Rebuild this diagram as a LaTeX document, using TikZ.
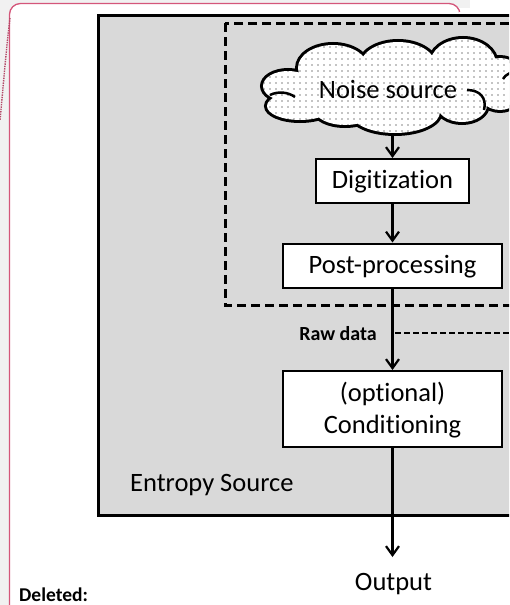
\documentclass[tikz,border=0pt]{standalone}
\usepackage{fontspec}
\setmainfont{Carlito}[Ligatures=NoCommon]
\usetikzlibrary{arrows.meta,patterns.meta}
\definecolor{boxgray}{HTML}{D9D9D9}
\definecolor{bggray}{HTML}{F1F1F1}
\definecolor{balloon}{HTML}{D4567A}
\def\cloudlobes{(288,86) ellipse [x radius=25pt, y radius=15pt]
 (300,106) ellipse [x radius=33pt, y radius=14pt]
 (333,68) ellipse [x radius=35pt, y radius=23pt]
 (398,66) ellipse [x radius=38pt, y radius=24pt]
 (463,64) ellipse [x radius=33pt, y radius=25pt]
 (500,84) ellipse [x radius=25pt, y radius=26pt]
 (462,105) ellipse [x radius=25pt, y radius=17pt]
 (395,112) ellipse [x radius=45pt, y radius=21pt]
 (345,110) ellipse [x radius=30pt, y radius=15pt]
 (390,88) ellipse [x radius=95pt, y radius=28pt]}
\begin{document}
\begin{tikzpicture}[x=1pt,y=-1pt,
  proc/.style={draw=black, line width=2pt, fill=white, font=\fontsize{26.5}{32}\selectfont, inner sep=0pt, align=center, text depth=3pt},
  arr/.style={line width=2.2pt, -{Straight Barb[length=9pt,width=13pt]}},
  lbl/.style={font=\fontsize{26.5}{32}\selectfont, inner sep=0pt}]
\clip (0,0) rectangle (509,605);
\fill[white] (0,0) rectangle (509,605);
\fill[bggray] (0,0) rectangle (470,8);
\fill[bggray] (0,0) rectangle (9.5,605);
\fill[white, rounded corners=11pt] (9.5,3.5) rectangle (460,640);
\draw[balloon, line width=1.3pt, rounded corners=11pt] (9.5,640) -- (9.5,3.5) -- (460,3.5) -- (460,30);
\fill[white] (459,12) rectangle (462,40);
\draw[balloon!85!black, densely dotted, line width=1.4pt] (10,18) .. controls (6,50) and (3,90) .. (0,120);
\node[font=\bfseries\fontsize{19.5}{22}\selectfont, anchor=base west, inner sep=0pt] (deleted) at (19,601.5) {Deleted:};
% entropy source box
\node[draw=black, line width=3pt, fill=boxgray, inner sep=0pt, minimum width=443pt, minimum height=500pt, anchor=north west] (esbox) at (97,14) {};
% dashed noise-source region
\draw[line width=3pt, dash pattern=on 9pt off 5pt] (225,23) rectangle (540,305);
% cloud
\draw[line width=6pt] \cloudlobes;
\fill[white] \cloudlobes;
\fill[pattern={Dots[distance=6pt,radius=0.6pt]}, pattern color=black] \cloudlobes;
\draw[line width=2.5pt] (270,95) .. controls (278,91) and (288,92) .. (295,97);
\draw[line width=2.5pt] (467,90) .. controls (480,90) and (487,98) .. (484,110);
\draw[line width=2.5pt] (503,79) .. controls (505,76) .. (510,73);
\node[lbl] (noise) at (388,89) {Noise source};
% process boxes
\node[proc, minimum width=153pt, minimum height=44pt] (dig) at (392.5,181) {Digitization};
\node[proc, minimum width=219pt, minimum height=44pt] (post) at (392.5,265.5) {Post-processing};
\node[proc, minimum width=219pt, minimum height=76pt] (cond) at (392.5,409) {(optional)\\Conditioning};
\node[font=\bfseries\fontsize{20}{24}\selectfont, inner sep=0pt] (raw) at (338,334) {Raw data};
\node[lbl, anchor=west] (es) at (130,485) {Entropy Source};
\node[lbl] (out) at (393.5,584) {Output};
\coordinate (cloudbot) at (392.5,133);
\coordinate (rawstart) at (395,333);
\coordinate (rawend) at (515,333);
\coordinate (outtip) at (392.5,557);
\draw[arr] (cloudbot) -- (dig.north);
\draw[arr] (dig.south) -- (post.north);
\draw[arr] (post.south) -- (cond.north);
\draw[arr] (cond.south) -- (outtip);
\draw[line width=1.8pt, dash pattern=on 6pt off 3pt] (rawstart) -- (rawend);
\end{tikzpicture}
\end{document}
